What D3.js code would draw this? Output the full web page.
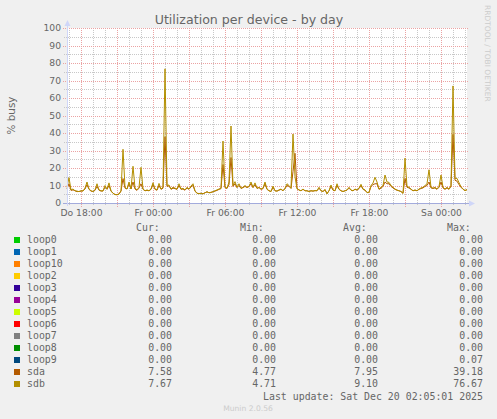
<!DOCTYPE html>
<html>
<head>
<meta charset="utf-8">
<script src="https://cdn.jsdelivr.net/npm/d3@7"></script>
<style>
  body { margin: 0; background: #f0f0f0; }
  svg { display: block; }
</style>
</head>
<body>
<svg id="chart"></svg>
<script>
// samples every 10 minutes, starting Thu 16:50
const sdb = [
  9, 14.5, 7.5, 8, 7, 6.8, 6.5, 7, 6.8, 8.5,
  12, 8, 7, 6.5, 7.5, 11, 7.5, 7, 6.8, 10,
  8, 11.5, 7, 5.5, 4.8, 4.71, 5, 7, 30.7, 9,
  8, 12, 8, 21, 8.5, 7.5, 9, 20.4, 8, 7,
  7.5, 7, 8, 11.6, 8, 7.5, 11.2, 8, 9, 76.67,
  10, 10.3, 8, 9, 8.5, 8, 11, 8, 8.4, 7.5,
  9, 8, 9.7, 11, 7, 5.5, 5.3, 5.5, 5.2, 5.8,
  6.5, 5.8, 6, 6.5, 7, 7.5, 8, 8.5, 35.4, 9,
  8.5, 12, 44, 10, 12.2, 9, 11, 8.5, 9, 10,
  9, 9.5, 12, 9, 11.5, 8.5, 9, 8, 8.5, 12,
  8, 7, 6.5, 9.7, 7, 6.8, 7.5, 8, 7, 8.5,
  11, 10, 8.5, 39.4, 15, 8, 7.5, 7, 8, 7,
  7, 6.5, 7, 6.8, 7.2, 7, 9, 7, 6.5, 7.8,
  5.2, 7, 10.3, 7.5, 7, 11, 8, 7, 6.5, 7,
  7.5, 9, 7.4, 7, 8, 7.5, 8.5, 10.7, 8, 7.5,
  5.9, 6, 10, 11.4, 14.7, 12, 8, 9, 10, 16,
  12, 11.8, 10, 9, 8, 7.4, 7, 6.5, 5.5, 25.6,
  9.5, 9, 8, 7, 7.5, 7, 8, 8.6, 9, 10,
  11, 19, 9, 8.5, 9, 8, 9.5, 16, 9, 8,
  9, 8, 10, 66.9, 14, 14.1, 11.6, 9.3, 8, 7, 7.67
]

const sda = [
  8, 11, 7.2, 7.5, 7, 6.5, 6.6, 6.8, 7, 8,
  10.5, 7.8, 6.8, 6.6, 7.2, 9.5, 7.3, 6.8, 7, 9,
  7.8, 10, 6.8, 5.6, 4.9, 4.77, 5.2, 6.8, 14, 8.5,
  8, 11, 8, 12, 8, 7.2, 8.5, 11, 7.8, 7,
  7.2, 7, 7.8, 10.5, 7.8, 7.3, 10, 7.8, 8.5, 37.9,
  9.5, 9.8, 7.8, 8.5, 8.2, 7.8, 10, 7.8, 8, 7.3,
  8.6, 7.8, 9.2, 10, 6.8, 5.6, 5.4, 5.6, 5.3, 5.9,
  6.3, 5.9, 6.1, 6.4, 6.8, 7.2, 7.8, 8.2, 22, 8.8,
  8.3, 10.5, 26, 9.5, 11, 8.8, 10, 8.3, 8.8, 9.5,
  8.8, 9.4, 11, 8.8, 10.5, 8.3, 8.8, 7.8, 8.2, 11,
  7.8, 7, 6.6, 9, 7, 6.8, 7.3, 7.8, 7, 8.2,
  10, 9.5, 8.3, 18, 28.4, 8.5, 7.4, 7, 7.8, 7,
  7, 6.6, 7, 6.8, 7, 7, 8.5, 7, 6.6, 7.5,
  5.4, 7, 9.5, 7.3, 7, 10, 7.8, 7, 6.6, 7,
  7.3, 8.5, 7.3, 7, 7.8, 7.3, 8.2, 10, 7.8, 7.3,
  6, 6.1, 9.5, 10.5, 11, 11, 7.8, 8.5, 9.5, 12,
  11, 11, 9.5, 8.6, 7.8, 7.3, 7, 6.6, 5.6, 14,
  9, 8.6, 7.8, 7, 7.3, 7, 7.8, 8.3, 8.6, 9.5,
  10, 12, 8.6, 8.3, 8.6, 7.8, 9, 12, 8.6, 7.8,
  8.6, 7.8, 9.5, 39.18, 13, 12.5, 10.5, 9, 7.8, 7.2, 7.58
]

const deviceNames = ['loop0', 'loop1', 'loop10', 'loop2', 'loop3', 'loop4', 'loop5',
  'loop6', 'loop7', 'loop8', 'loop9', 'sda', 'sdb']
const deviceColors = ['#00CC00', '#0066B3', '#FF8000', '#FFCC00', '#330099', '#990099', '#CCFF00',
  '#FF0000', '#808080', '#008F00', '#00487D', '#B35A00', '#B38F00']
const curValues = [0, 0, 0, 0, 0, 0, 0, 0, 0, 0, 0, 7.58, 7.67]
const minValues = [0, 0, 0, 0, 0, 0, 0, 0, 0, 0, 0, 4.77, 4.71]
const avgValues = [0, 0, 0, 0, 0, 0, 0, 0, 0, 0, 0, 7.95, 9.10]
const maxValues = [0, 0, 0, 0, 0, 0, 0, 0, 0, 0, 0.07, 39.18, 76.67]

const yTicks = [0, 10, 20, 30, 40, 50, 60, 70, 80, 90, 100]
const xTickLabels = ['Do 18:00', 'Fr 00:00', 'Fr 06:00', 'Fr 12:00', 'Fr 18:00', 'Sa 00:00']

const width = 497
const height = 419
const start = new Date(2025, 11, 18, 16, 50)
const end = d3.timeMinute.offset(start, 2000)
const stepMinutes = 10

const svg = d3.select('#chart')
  .attr('width', width)
  .attr('height', height)
  .style('font-family', 'DejaVu Sans, sans-serif')

svg.append('rect').attr('width', width).attr('height', height).attr('fill', '#f0f0f0')

const x = d3.scaleTime().domain([start, end]).range([67, 467])
const y = d3.scaleLinear().domain([0, 100]).range([203, 28])
const px = v => Math.round(v) + 0.5

// canvas
svg.append('rect')
  .attr('x', 67).attr('y', 28)
  .attr('width', 400).attr('height', 175)
  .attr('fill', '#ffffff')

// grid
const grid = svg.append('g').attr('stroke-dasharray', '1,1').attr('stroke-width', 1)

const hours = d3.timeHour.range(start, end)
grid.selectAll('line.vx')
  .data(hours.filter(d => d.getHours() % 3 !== 0))
  .enter().append('line')
  .attr('x1', d => px(x(d))).attr('x2', d => px(x(d)))
  .attr('y1', 28).attr('y2', 205)
  .attr('stroke', '#c8c8c8')

const ySub = d3.range(5, 100, 10)
grid.selectAll('line.hy')
  .data(ySub)
  .enter().append('line')
  .attr('x1', 64).attr('x2', 468)
  .attr('y1', d => px(y(d))).attr('y2', d => px(y(d)))
  .attr('stroke', '#c8c8c8')

grid.selectAll('line.vmx')
  .data(hours.filter(d => d.getHours() % 3 === 0))
  .enter().append('line')
  .attr('x1', d => px(x(d))).attr('x2', d => px(x(d)))
  .attr('y1', 28).attr('y2', 207)
  .attr('stroke', '#eba3a3')

grid.selectAll('line.hmy')
  .data(yTicks)
  .enter().append('line')
  .attr('x1', 63).attr('x2', 468)
  .attr('y1', d => px(y(d))).attr('y2', d => px(y(d)))
  .attr('stroke', '#eba3a3')

// data lines
const line = d3.line()
  .x((d, i) => x(d3.timeMinute.offset(start, i * stepMinutes)))
  .y(d => y(d))

const series = [
  { values: sda, color: deviceColors[11] },
  { values: sdb, color: deviceColors[12] }
]
svg.append('g')
  .selectAll('path')
  .data(series)
  .enter().append('path')
  .attr('d', d => line(d.values))
  .attr('fill', 'none')
  .attr('stroke', d => d.color)
  .attr('stroke-width', 1)
  .attr('stroke-linejoin', 'round')

// axes
svg.append('line')
  .attr('x1', 63).attr('x2', 470)
  .attr('y1', px(y(0))).attr('y2', px(y(0)))
  .attr('stroke', '#a3abdc')
svg.append('line')
  .attr('x1', 67.5).attr('x2', 67.5)
  .attr('y1', 206).attr('y2', 25)
  .attr('stroke', '#cfd6f8')
svg.append('path')
  .attr('d', 'M67.5,20 L64.5,26 L70.5,26 Z')
  .attr('fill', '#cfd6f8')
svg.append('path')
  .attr('d', 'M475,203.5 L469,200.5 L469,206.5 Z')
  .attr('fill', '#cfd6f8')

// tick labels
svg.append('g')
  .selectAll('text')
  .data(yTicks)
  .enter().append('text')
  .attr('x', 61)
  .attr('y', d => y(d))
  .attr('dy', '0.36em')
  .attr('text-anchor', 'end')
  .attr('font-size', '9.2px')
  .attr('fill', '#666')
  .text(d => d)

const labelHours = d3.timeHour.every(6).range(start, end)
svg.append('g')
  .selectAll('text')
  .data(labelHours)
  .enter().append('text')
  .attr('x', d => x(d) + 0.5)
  .attr('y', 216)
  .attr('text-anchor', 'middle')
  .attr('font-size', '9.2px')
  .attr('fill', '#666')
  .text((d, i) => xTickLabels[i])

// titles
svg.append('text')
  .attr('x', 249).attr('y', 24)
  .attr('text-anchor', 'middle')
  .attr('font-size', '12.6px')
  .attr('fill', '#666')
  .text('Utilization per device - by day')

svg.append('text')
  .attr('transform', 'translate(15,115.5) rotate(-90)')
  .attr('text-anchor', 'middle')
  .attr('font-size', '10.4px')
  .attr('fill', '#666')
  .text('% busy')

svg.append('text')
  .attr('transform', 'translate(485,5) rotate(90)')
  .attr('font-size', '7.5px')
  .attr('fill', '#cccccc')
  .text('RRDTOOL / TOBI OETIKER')

// legend
const legend = svg.append('g')
  .style('font-family', 'DejaVu Sans Mono, monospace')
  .attr('font-size', '9.9px')
  .attr('fill', '#666')

const columns = [
  { title: 'Cur:', titleX: 136, right: 172, values: curValues },
  { title: 'Min:', titleX: 240, right: 276, values: minValues },
  { title: 'Avg:', titleX: 343, right: 378, values: avgValues },
  { title: 'Max:', titleX: 447, right: 483, values: maxValues }
]

columns.forEach(col => {
  legend.append('text')
    .attr('x', col.titleX).attr('y', 231)
    .text(col.title)
  legend.selectAll(null)
    .data(col.values)
    .enter().append('text')
    .attr('x', col.right)
    .attr('y', (d, i) => 243 + i * 12)
    .attr('text-anchor', 'end')
    .text(d => d.toFixed(2))
})

legend.selectAll('rect')
  .data(deviceNames)
  .enter().append('rect')
  .attr('x', 14)
  .attr('y', (d, i) => 237 + i * 12)
  .attr('width', 6).attr('height', 6)
  .attr('fill', (d, i) => deviceColors[i])

legend.selectAll('text.name')
  .data(deviceNames)
  .enter().append('text')
  .attr('class', 'name')
  .attr('x', 27)
  .attr('y', (d, i) => 243 + i * 12)
  .text(d => d)

legend.append('text')
  .attr('x', 483).attr('y', 400)
  .attr('text-anchor', 'end')
  .text('Last update: Sat Dec 20 02:05:01 2025')

svg.append('text')
  .attr('x', 248).attr('y', 411)
  .attr('text-anchor', 'middle')
  .attr('font-size', '7.6px')
  .attr('fill', '#cccccc')
  .text('Munin 2.0.56')
</script>
</body>
</html>
